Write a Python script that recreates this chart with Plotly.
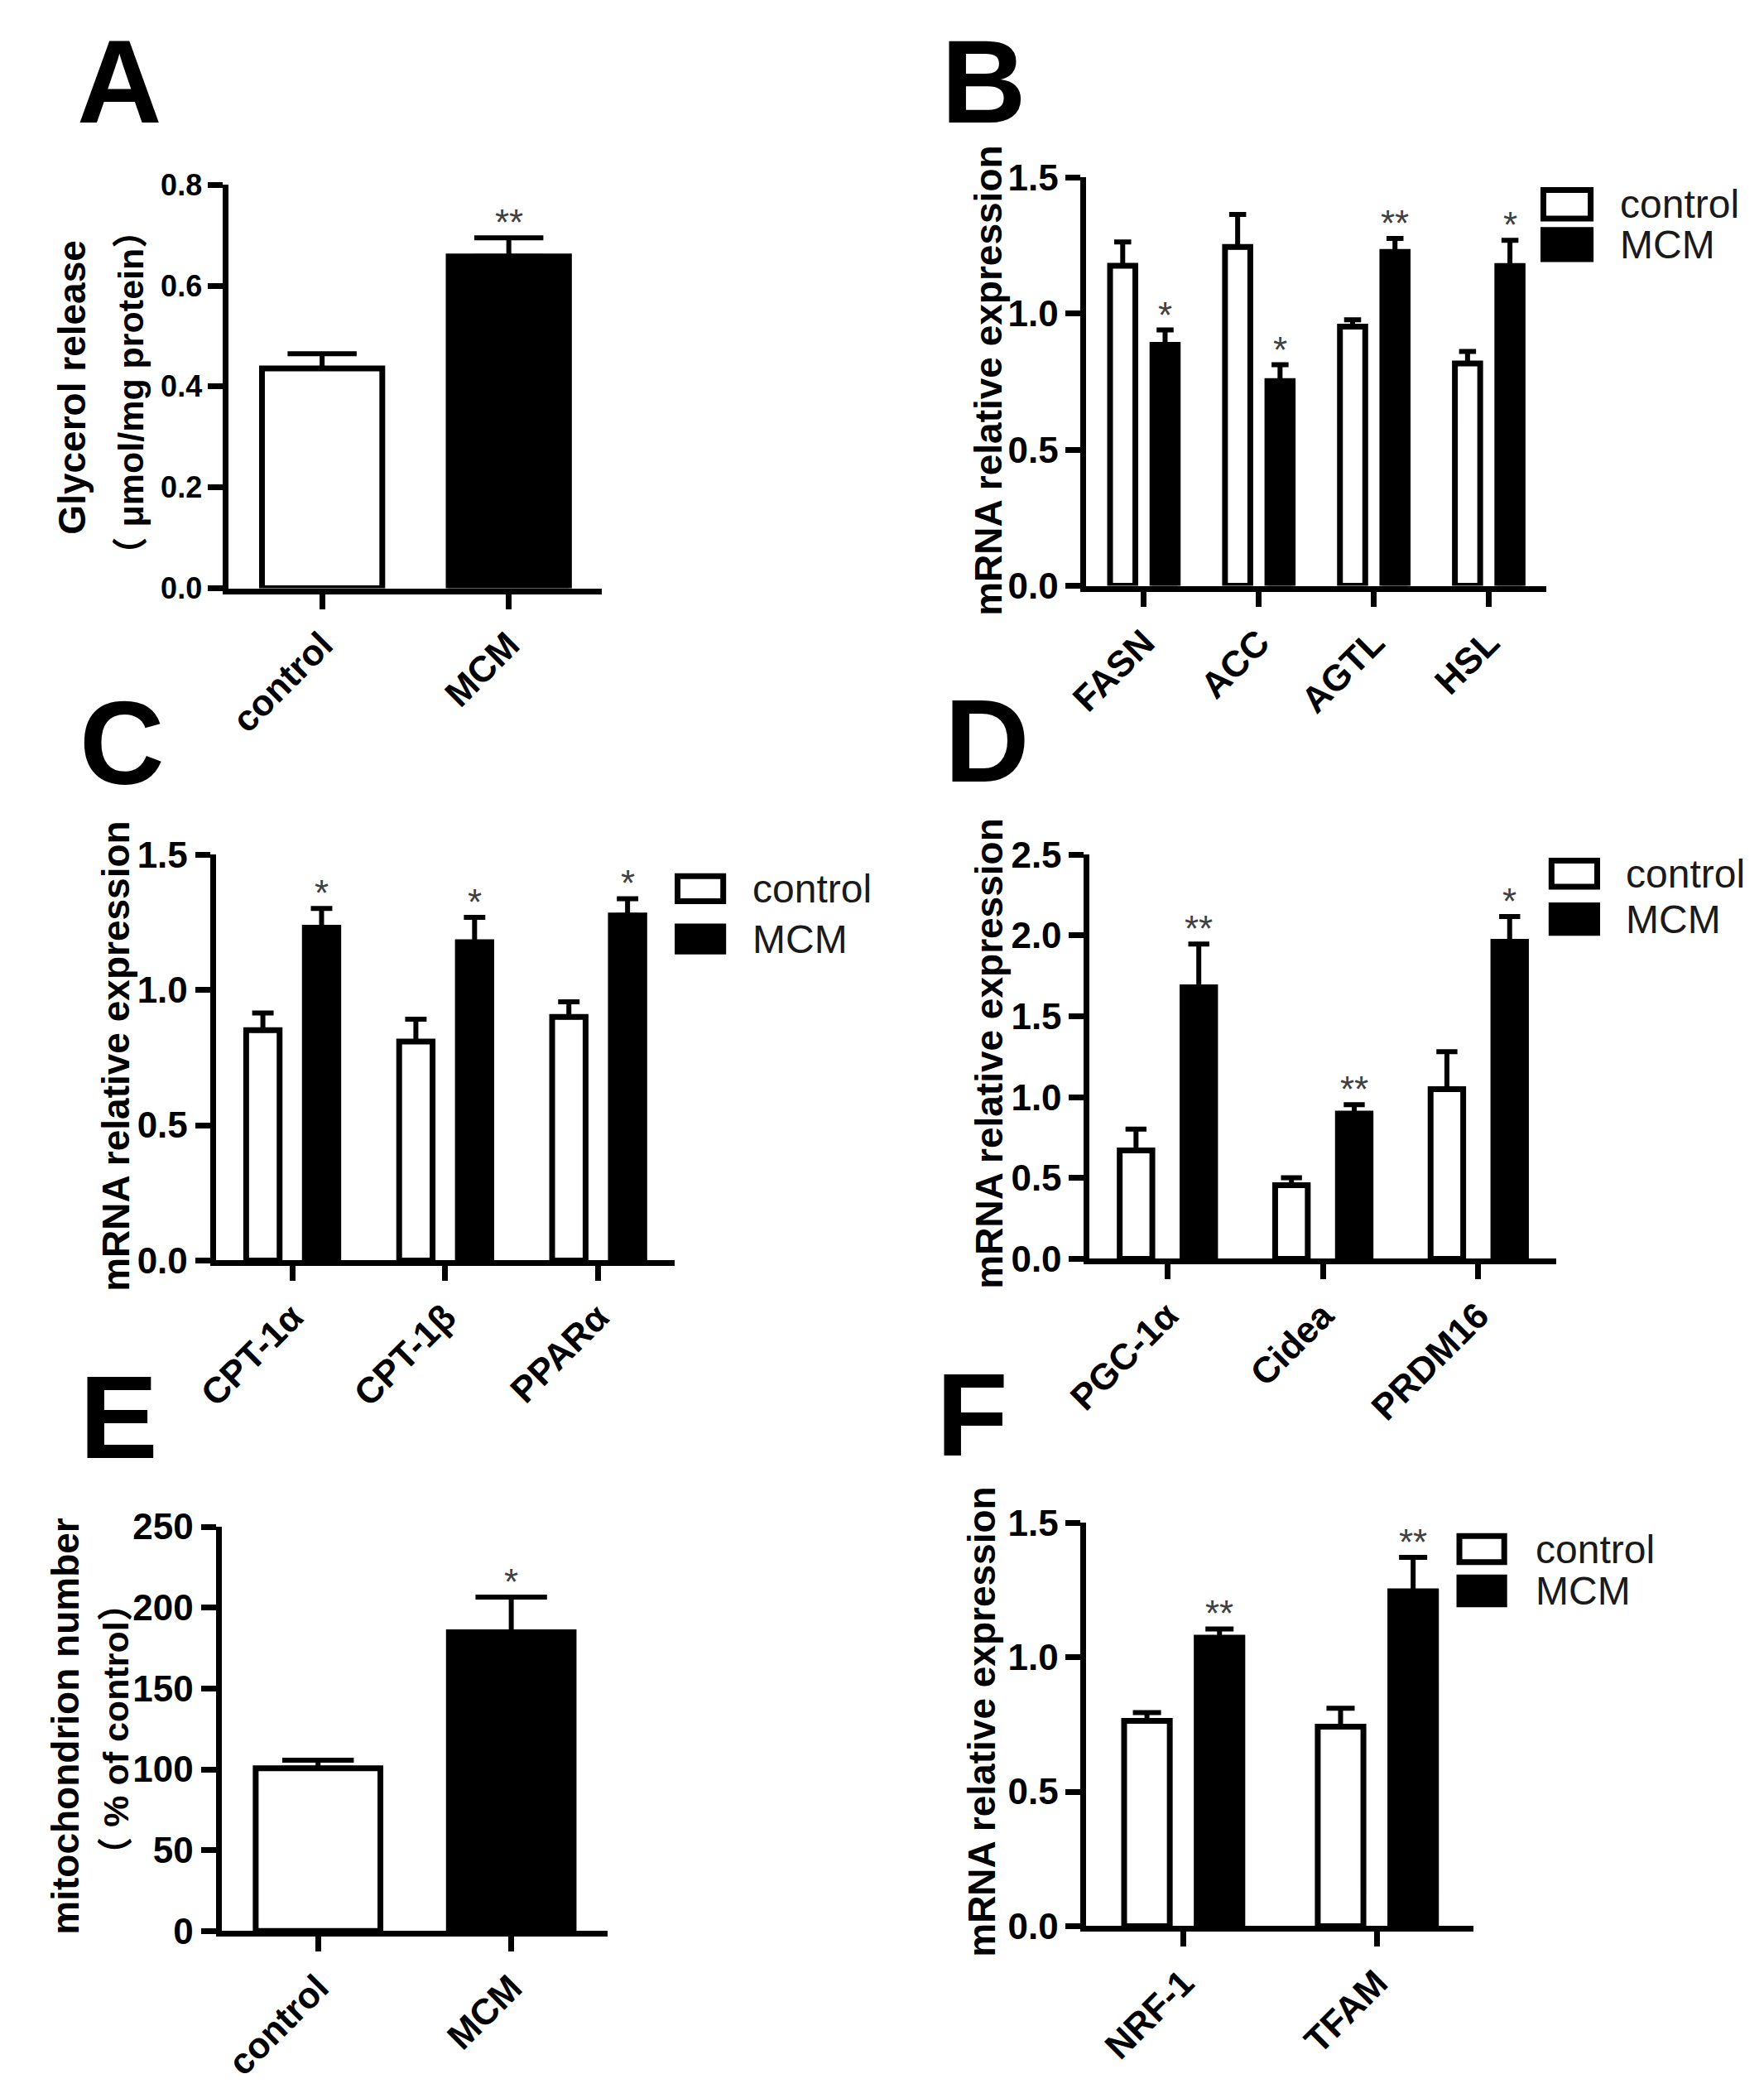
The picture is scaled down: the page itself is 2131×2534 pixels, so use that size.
"""MCM 処理による脂肪細胞の代謝指標（6 パネルの棒グラフ）。"""

import plotly.graph_objects as go

# --- データ ---

A_CATS = ["control", "MCM"]
A_VALUES = [0.436, 0.658]
A_SEM = [0.029, 0.037]
A_SIG = ["", "**"]

B_CATS = ["FASN", "ACC", "AGTL", "HSL"]
B_CONTROL = [1.176, 1.245, 0.952, 0.817]
B_CONTROL_SEM = [0.087, 0.119, 0.025, 0.044]
B_MCM = [0.885, 0.752, 1.227, 1.175]
B_MCM_SEM = [0.055, 0.060, 0.049, 0.094]
B_SIG = ["*", "*", "**", "*"]

C_CATS = ["CPT-1α", "CPT-1β", "PPARα"]
C_CONTROL = [0.851, 0.809, 0.900]
C_CONTROL_SEM = [0.064, 0.083, 0.056]
C_MCM = [1.230, 1.176, 1.275]
C_MCM_SEM = [0.071, 0.092, 0.062]
C_SIG = ["*", "*", "*"]

D_CATS = ["PGC-1α", "Cidea", "PRDM16"]
D_CONTROL = [0.671, 0.455, 1.049]
D_CONTROL_SEM = [0.131, 0.046, 0.232]
D_MCM = [1.679, 0.898, 1.961]
D_MCM_SEM = [0.268, 0.055, 0.156]
D_SIG = ["**", "**", "*"]

E_CATS = ["control", "MCM"]
E_VALUES = [100.6, 184.8]
E_SEM = [5.1, 21.7]
E_SIG = ["", "*"]

F_CATS = ["NRF-1", "TFAM"]
F_CONTROL = [0.763, 0.742]
F_CONTROL_SEM = [0.031, 0.068]
F_MCM = [1.073, 1.245]
F_MCM_SEM = [0.032, 0.126]
F_SIG = ["**", "**"]

SERIES_NAMES = ["control", "MCM"]

# --- スタイル定数 ---

PAGE_MARGIN = 8  # body の既定マージン分をずらす
FIG_W = 2131 - 2 * PAGE_MARGIN
FIG_H = 2534 - 2 * PAGE_MARGIN

AXIS_WIDTH = 7
BAR_LINE = 7
ERR_THICKNESS = 6

BASE_FAMILY = "Arial, Liberation Sans, sans-serif"
CJK_FAMILY = "Noto Sans CJK SC"
TICK_FONT = dict(family=BASE_FAMILY, size=44, color="black", weight="bold")
TICK_FONT_A = dict(family=BASE_FAMILY, size=36, color="black", weight="bold")
TITLE_FONT = dict(family=BASE_FAMILY, size=46, color="black", weight="bold")
SUB_FONT = dict(family=BASE_FAMILY, size=43, color="black", weight="bold")
LETTER_FONT = dict(family=BASE_FAMILY, size=142, color="black", weight="bold")
LEGEND_FONT = dict(family=BASE_FAMILY, size=48, color="#1a1a1a")
STAR_FONT = dict(family=BASE_FAMILY, size=44, color="#404040")


def _fx(px: float) -> float:
    return (px - PAGE_MARGIN) / FIG_W


def _fy(py: float) -> float:
    return 1 - (py - PAGE_MARGIN) / FIG_H


def _cjk(ch: str) -> str:
    return f'<span style="font-family:{CJK_FAMILY}">{ch}</span>'


layout: dict = {}
traces: list[go.Bar] = []
annotations: list[dict] = []
shapes: list[dict] = []


def add_axes(n, x0, x1, ytop, ybottom, ymax, dtick, fmt, ncat, tickfont):
    s = "" if n == 1 else str(n)
    layout[f"xaxis{s}"] = dict(
        domain=[_fx(x0), _fx(x1)], anchor=f"y{s}", type="category",
        range=[-0.5, ncat - 0.5], showline=True, linewidth=AXIS_WIDTH,
        linecolor="black", ticks="outside", ticklen=18, tickwidth=AXIS_WIDTH,
        tickcolor="black", tickangle=-45, tickfont=TICK_FONT,
        showgrid=False, zeroline=False, fixedrange=True,
    )
    layout[f"yaxis{s}"] = dict(
        domain=[_fy(ybottom), _fy(ytop)], anchor=f"x{s}", range=[0, ymax],
        tick0=0, dtick=dtick, tickformat=fmt, showline=True,
        linewidth=AXIS_WIDTH, linecolor="black", ticks="outside", ticklen=18,
        tickwidth=AXIS_WIDTH, tickcolor="black", tickfont=tickfont,
        showgrid=False, zeroline=False, fixedrange=True,
    )
    return f"x{s}", f"y{s}"


def add_stars(xa, ya, xs, tops, sigs):
    for x, top, sig in zip(xs, tops, sigs):
        if not sig:
            continue
        annotations.append(dict(
            x=x, y=top, xref=xa, yref=ya, text=sig, showarrow=False,
            xanchor="center", yanchor="bottom", yshift=-8, font=STAR_FONT,
        ))


def single_panel(n, cats, vals, sem, sigs, box, ymax, dtick, fmt,
                 tickfont=TICK_FONT):
    x0, x1, ytop, ybottom = box
    xa, ya = add_axes(n, x0, x1, ytop, ybottom, ymax, dtick, fmt, len(cats),
                      tickfont)
    cat_px = (x1 - x0) / len(cats)
    bar_outer = 0.675 * cat_px
    traces.append(go.Bar(
        x=cats, y=vals, xaxis=xa, yaxis=ya, width=(bar_outer - BAR_LINE) / cat_px,
        marker=dict(color=["white", "black"], line=dict(color="black", width=BAR_LINE)),
        error_y=dict(type="data", array=sem, arrayminus=[0] * len(sem),
                     symmetric=False, color="black", thickness=ERR_THICKNESS,
                     width=0.27 * bar_outer),
        showlegend=False, hoverinfo="skip",
    ))
    add_stars(xa, ya, list(range(len(cats))),
              [v + e for v, e in zip(vals, sem)], sigs)


def grouped_panel(n, cats, ctrl, ctrl_sem, mcm, mcm_sem, sigs, box, ymax,
                  dtick, fmt, bar_outer, gap_outer, legend):
    x0, x1, ytop, ybottom = box
    xa, ya = add_axes(n, x0, x1, ytop, ybottom, ymax, dtick, fmt, len(cats),
                      TICK_FONT)
    cat_px = (x1 - x0) / len(cats)
    w = (bar_outer - BAR_LINE) / cat_px
    g = (gap_outer + BAR_LINE) / cat_px
    offsets = [-(g / 2 + w), g / 2]
    for name, vals, sem, color, off in zip(
            SERIES_NAMES, [ctrl, mcm], [ctrl_sem, mcm_sem],
            ["white", "black"], offsets):
        traces.append(go.Bar(
            x=cats, y=vals, name=name, xaxis=xa, yaxis=ya, width=w, offset=off,
            marker=dict(color=color, line=dict(color="black", width=BAR_LINE)),
            error_y=dict(type="data", array=sem, arrayminus=[0] * len(sem),
                         symmetric=False, color="black",
                         thickness=ERR_THICKNESS, width=0.27 * bar_outer),
            showlegend=False, hoverinfo="skip",
        ))
    add_stars(xa, ya, [i + offsets[1] + w / 2 for i in range(len(cats))],
              [v + e for v, e in zip(mcm, mcm_sem)], sigs)

    # 凡例（手描きの四角とテキスト）
    lx0, lx1, rows, tx = legend
    for (ry0, ry1), color, name in zip(rows, ["white", "black"], SERIES_NAMES):
        h = BAR_LINE / 2
        shapes.append(dict(
            type="rect", xref="paper", yref="paper",
            x0=_fx(lx0 + h), x1=_fx(lx1 - h), y0=_fy(ry1 - h), y1=_fy(ry0 + h),
            line=dict(color="black", width=BAR_LINE), fillcolor=color,
        ))
        annotations.append(dict(
            x=_fx(tx), y=_fy((ry0 + ry1) / 2), xref="paper", yref="paper",
            text=name, showarrow=False, xanchor="left", yanchor="middle",
            font=LEGEND_FONT,
        ))


def y_title(text, x_px, y_px, font=TITLE_FONT):
    annotations.append(dict(
        x=_fx(x_px), y=_fy(y_px), xref="paper", yref="paper", text=text,
        textangle=-90, showarrow=False, xanchor="center", yanchor="middle",
        font=font,
    ))


def letter(text, x_px, y_px):
    annotations.append(dict(
        x=_fx(x_px), y=_fy(y_px), xref="paper", yref="paper", text=text,
        showarrow=False, xanchor="left", yanchor="middle", font=LETTER_FONT,
    ))


# --- パネル ---

single_panel(1, A_CATS, A_VALUES, A_SEM, A_SIG, (248, 706, 202, 699),
             0.8, 0.2, ".1f", TICK_FONT_A)
grouped_panel(2, B_CATS, B_CONTROL, B_CONTROL_SEM, B_MCM, B_MCM_SEM, B_SIG,
              (1300, 1864, 193, 696), 1.5, 0.5, ".1f", 38, 14,
              (1857, 1922, [(205, 247), (254, 297)], 1952))
grouped_panel(3, C_CATS, C_CONTROL, C_CONTROL_SEM, C_MCM, C_MCM_SEM, C_SIG,
              (232, 795, 1027, 1527), 1.5, 0.5, ".1f", 48, 24,
              (795, 858, [(1050, 1088), (1112, 1150)], 888))
grouped_panel(4, D_CATS, D_CONTROL, D_CONTROL_SEM, D_MCM, D_MCM_SEM, D_SIG,
              (1304, 1876, 1027, 1525), 2.5, 0.5, ".1f", 47, 30,
              (1867, 1930, [(1031, 1070), (1086, 1127)], 1960))
single_panel(5, E_CATS, E_VALUES, E_SEM, E_SIG, (239, 713, 1855, 2353),
             250, 50, "d")
grouped_panel(6, F_CATS, F_CONTROL, F_CONTROL_SEM, F_MCM, F_MCM_SEM, F_SIG,
              (1300, 1775, 1850, 2347), 1.5, 0.5, ".1f", 63, 26,
              (1754, 1816, [(1863, 1902), (1914, 1954)], 1849))

# 縦軸タイトル
y_title("Glycerol release", 56, 452)
y_title(f"{_cjk('（')} μmol/mg protein{_cjk('）')}", 124, 458, SUB_FONT)
y_title("mRNA relative expression", 1179, 443)
y_title("mRNA relative expression", 110, 1275)
y_title("mRNA relative expression", 1181, 1272)
y_title("mitochondrion number", 48, 2100)
y_title(f"{_cjk('（')} % of control{_cjk('）')}", 106, 2105, SUB_FONT)
y_title("mRNA relative expression", 1172, 2095)

# パネル記号
for ch, lx, ly in [("A", 60, 75), ("B", 1120, 75), ("C", 63, 890),
                   ("D", 1124, 887), ("E", 63, 1720), ("F", 1114, 1717)]:
    letter(ch, lx, ly)

fig = go.Figure(data=traces)
fig.update_layout(
    width=FIG_W, height=FIG_H, margin=dict(l=0, r=0, t=0, b=0),
    paper_bgcolor="white", plot_bgcolor="white", barmode="overlay",
    showlegend=False, annotations=annotations, shapes=shapes, **layout,
)
fig.write_html("out.html")
